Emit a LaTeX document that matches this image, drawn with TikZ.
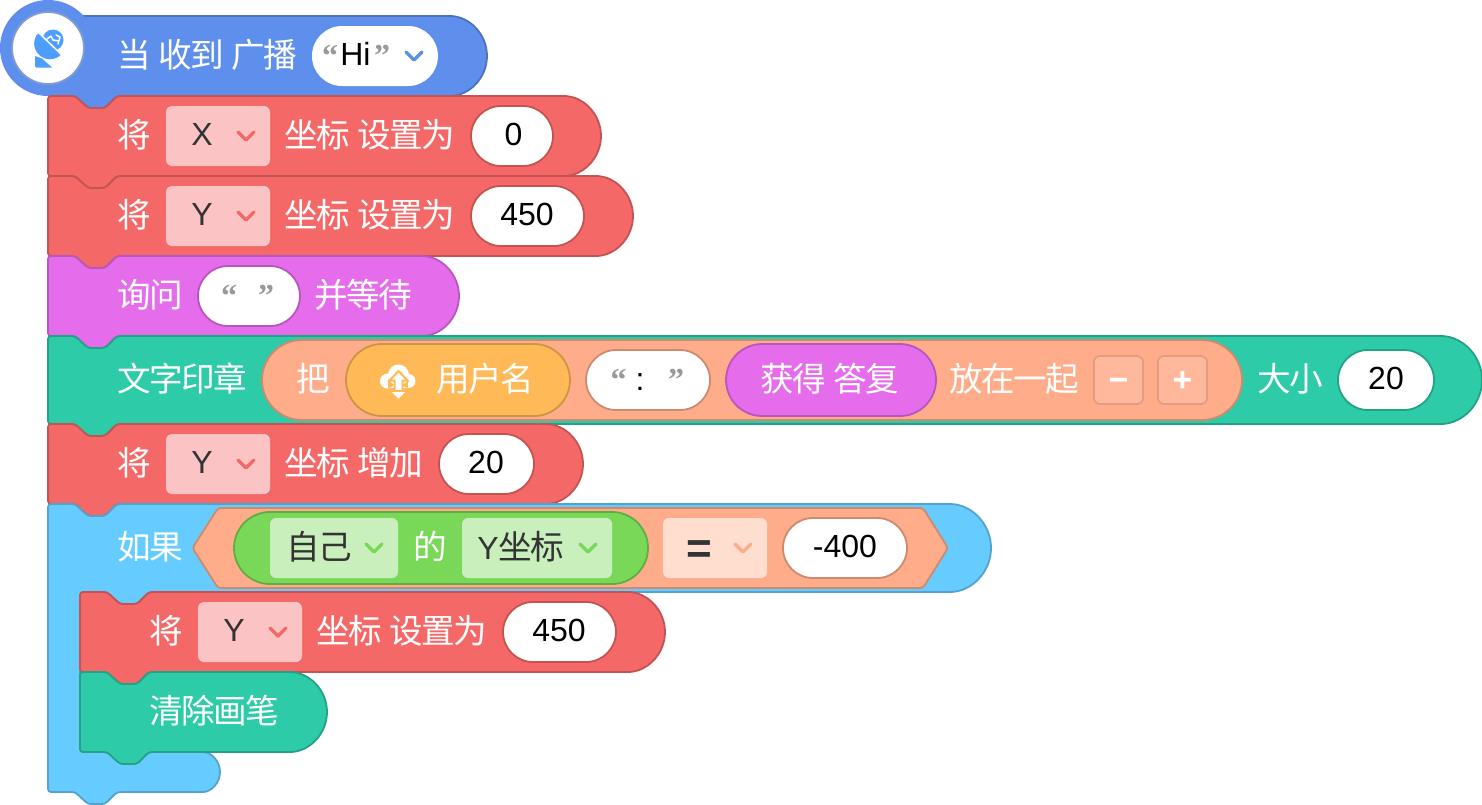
\documentclass[tikz,border=0pt]{standalone}
\usepackage{fontspec}
\setmainfont{Liberation Sans}
\newfontfamily\cjk[Scale=1.05,LetterSpace=-4.5]{Noto Sans CJK SC}
\newfontfamily\qfont{Liberation Serif}
\definecolor{hatF}{HTML}{5F8FED}\definecolor{hatS}{HTML}{4C72BE}
\definecolor{redF}{HTML}{F56868}\definecolor{redS}{HTML}{C45353}
\definecolor{purF}{HTML}{E56CEB}\definecolor{purS}{HTML}{B756BC}
\definecolor{teaF}{HTML}{2DCBA8}\definecolor{teaS}{HTML}{24A286}
\definecolor{bluF}{HTML}{66CCFF}\definecolor{bluS}{HTML}{52A3CC}
\definecolor{oraF}{HTML}{FFAC8A}\definecolor{oraS}{HTML}{CC8A6E}
\definecolor{yelF}{HTML}{FFBA57}\definecolor{yelS}{HTML}{CC9546}
\definecolor{greF}{HTML}{79D858}\definecolor{greS}{HTML}{60AD46}
\definecolor{ddR}{HTML}{FBC3C3}\definecolor{ddG}{HTML}{C9EFBC}\definecolor{ddO}{HTML}{FFDECF}
\definecolor{dark}{HTML}{333333}\definecolor{qgray}{HTML}{999999}\definecolor{dish}{HTML}{4D9EFF}
\definecolor{btnF}{HTML}{FFB89C}\definecolor{btnS}{HTML}{E09E80}
\tikzset{
 edge/.style={line width=1.8pt,line join=round},
 hatb/.style={edge,fill=hatF,draw=hatS},
 redb/.style={edge,fill=redF,draw=redS},
 purb/.style={edge,fill=purF,draw=purS},
 teab/.style={edge,fill=teaF,draw=teaS},
 blub/.style={edge,fill=bluF,draw=bluS},
 txt/.style={inner sep=0pt,outer sep=0pt,anchor=base,font=\fontsize{32}{36}\selectfont},
 tw/.style={txt,text=white,yshift=-1pt},
 td/.style={txt,text=dark},
 tk/.style={txt,text=black},
 tq/.style={inner sep=0pt,outer sep=0pt,anchor=base,text=qgray,font=\fontsize{32}{36}\qfont\bfseries},
 chevline/.style={line width=3.5pt,line cap=round,line join=round},
}
\newcommand{\gapw}{\kern7.5pt}
\newcommand{\tn}[5]{\node[#1] (#2) at (#3,#4) {#5};}
% block: style, left, top, bottom, right
\newcommand{\stackblock}[5]{%
 \pgfmathsetmacro{\rr}{(#4-#3)/2}%
 \draw[#1,rounded corners=3pt] (#2,#3) -- ({#2+27},#3) -- ({#2+40},{#3+12}) -- ({#2+57},{#3+12}) -- ({#2+69},#3)
   -- ({#5-\rr},#3) arc[start angle=-90,end angle=90,radius=\rr]
   -- ({#2+69},#4) -- ({#2+57},{#4+12}) -- ({#2+40},{#4+12}) -- ({#2+27},#4) -- (#2,#4) -- cycle;}
% pill: style, x1,y1,x2,y2
\newcommand{\pill}[5]{%
 \pgfmathsetmacro{\rr}{(#5-#3)/2}%
 \path[#1] ({#2+\rr},#3) -- ({#4-\rr},#3) arc[start angle=-90,end angle=90,radius=\rr]
   -- ({#2+\rr},#5) arc[start angle=90,end angle=270,radius=\rr] -- cycle;}
\newcommand{\ddbox}[6]{\fill[#1,rounded corners=6pt] (#2,#3) rectangle (#4,#5);\draw[chevline,#6] ({#4-32},{#3+26}) -- ({#4-24},{#3+34}) -- ({#4-16},{#3+26});}
\newcommand{\numpill}[5]{\pill{edge,fill=white,draw=#1}{#2}{#3}{#4}{#5}}
\begin{document}
\begin{tikzpicture}[x=1pt,y=-1pt]
\useasboundingbox (0,0) rectangle (1482,804);
% hat
\draw[hatb,rounded corners=3pt] (48,16) -- (447,16) arc[start angle=-90,end angle=90,radius=40]
   -- (117,96) -- (105,108) -- (88,108) -- (75,96) -- (48,96) -- cycle;
\fill[hatF] (48,48) circle[radius=48];
\draw[edge,fill=white,draw=hatS!70!white] (48,48) circle[radius=36];
% dish icon
\fill[dish] (53,40) circle[radius=10.5];
\draw[white,line width=1.5pt,line cap=round,line join=round] (47,39) -- (51,36) -- (53,40) -- (58,41) (56,35) -- (60,37) -- (58,44);
\draw[fill=dish,draw=white,line width=1.5pt] (38,32) arc[start angle=224,end angle=44,radius=16.6] -- cycle;
\fill[dish] (35,56) -- (35,66) -- (36.5,67.5) -- (52,67.5) -- (42,58.5) -- cycle;
\tn{tw}{t01}{207.5}{66}{\cjk 当\gapw 收到\gapw 广播}
\pill{fill=white}{312}{26}{438}{86}
\tn{tq}{q01}{330}{66}{“}
\tn{tk}{t02}{355.5}{65}{Hi}
\tn{tq}{q02}{382}{66}{”}
\draw[chevline,hatF] (406,52) -- (414,60) -- (422,52);
% set X
\stackblock{redb}{48}{96}{176}{601}
\tn{tw}{t03}{134}{146}{\cjk 将}
\ddbox{ddR}{166}{106}{270}{166}{redF}
\tn{td}{t04}{202}{145}{X}
\tn{tw}{t05}{370}{146}{\cjk 坐标\gapw 设置为}
\numpill{redS}{471}{106}{553}{166}
\tn{tk}{t06}{513.5}{145}{0}
% set Y
\stackblock{redb}{48}{176}{256}{633}
\tn{tw}{t07}{134}{226}{\cjk 将}
\ddbox{ddR}{166}{186}{270}{246}{redF}
\tn{td}{t08}{202}{225}{Y}
\tn{tw}{t09}{370}{226}{\cjk 坐标\gapw 设置为}
\numpill{redS}{471}{186}{584}{246}
\tn{tk}{t10}{527}{225}{450}
% ask
\stackblock{purb}{48}{256}{336}{459}
\tn{tw}{t11}{150}{306}{\cjk 询问}
\numpill{purS}{198}{266}{300}{326}
\tn{tq}{q03}{229}{306}{“}
\tn{tq}{q04}{266}{306}{”}
\tn{tw}{t12}{363}{306}{\cjk 并等待}
% stamp
\stackblock{teab}{48}{336}{424}{1482}
\tn{tw}{t13}{182}{390}{\cjk 文字印章}
\pill{edge,fill=oraF,draw=oraS}{262}{340}{1242}{420}
\tn{tw}{t14}{313}{390}{\cjk 把}
\pill{edge,fill=yelF,draw=yelS}{346}{344}{570}{416}
% cloud icon
\fill[white] (398.5,375) circle[radius=10.5] (387.5,381) circle[radius=7.5] (408.5,381) circle[radius=7] (388,379) rectangle (408,388);
\draw[fill=white,draw=yelF,line width=2pt,line join=miter] (398.5,371) -- (389.5,380.5) -- (394.5,380.5) -- (394.5,391) -- (402.5,391) -- (402.5,380.5) -- (407.5,380.5) -- cycle;
\fill[white] (392,392) -- (405,392) -- (398.5,398.5) -- cycle;
\tn{tw}{t15}{485}{390}{\cjk 用户名}
\numpill{oraS}{586}{350}{710}{410}
\tn{tq}{q05}{618.5}{390}{“}
\tn{tk}{t16}{640}{390}{:}
\tn{tq}{q06}{676}{390}{”}
\pill{edge,fill=purF,draw=purS}{726}{344}{936}{416}
\tn{tw}{t17}{830}{390}{\cjk 获得\gapw 答复}
\tn{tw}{t18}{1014}{390}{\cjk 放在一起}
\draw[edge,fill=btnF,draw=btnS,rounded corners=6pt] (1094,356) rectangle (1143,404);
\draw[edge,fill=btnF,draw=btnS,rounded corners=6pt] (1158,356) rectangle (1207,404);
\tn{tw,font=\fontsize{34}{36}\selectfont\bfseries}{t19}{1118.5}{390}{−}
\tn{tw,font=\fontsize{34}{36}\selectfont\bfseries}{t20}{1182.5}{390}{+}
\tn{tw}{t21}{1290}{390}{\cjk 大小}
\numpill{teaS}{1338}{350}{1434}{410}
\tn{tk}{t22}{1386}{389}{20}
% change Y
\stackblock{redb}{48}{424}{504}{583}
\tn{tw}{t23}{134}{474}{\cjk 将}
\ddbox{ddR}{166}{434}{270}{494}{redF}
\tn{td}{t24}{202}{473}{Y}
\tn{tw}{t25}{354}{474}{\cjk 坐标\gapw 增加}
\numpill{redS}{439}{434}{534}{494}
\tn{tk}{t26}{486}{473}{20}
% if block
\draw[blub,rounded corners=3pt] (48,504) -- (75,504) -- (88,516) -- (105,516) -- (117,504) -- (947,504)
  arc[start angle=-90,end angle=90,radius=44] -- (149,592) -- (137,604) -- (120,604) -- (107,592) -- (80,592) -- (80,752)
  -- (200,752) arc[start angle=-90,end angle=90,radius=20] -- (117,792) -- (105,804) -- (88,804) -- (75,792) -- (48,792) -- cycle;
\tn{tw}{t27}{150}{558}{\cjk 如果}
\draw[edge,fill=oraF,draw=oraS,rounded corners=3pt] (192.5,548) -- (218,508) -- (923,508) -- (948,548) -- (923,588) -- (218,588) -- cycle;
\pill{edge,fill=greF,draw=greS}{234}{512}{648}{584}
\ddbox{ddG}{270}{518}{398}{578}{greF}
\tn{td}{t28}{319}{559}{\cjk 自己}
\tn{tw}{t29}{430}{558}{\cjk 的}
\ddbox{ddG}{462}{518}{612}{578}{greF}
\tn{td}{t30}{521}{559}{Y{\cjk 坐标}}
\ddbox{ddO}{663}{518}{767}{578}{oraF}
\tn{td,font=\fontsize{44}{46}\selectfont\bfseries}{t31}{699}{563}{=}
\numpill{oraS}{783}{518}{907}{578}
\tn{tk}{t32}{845}{557}{-400}
% inner set Y
\stackblock{redb}{80}{592}{672}{665}
\tn{tw}{t33}{166}{642}{\cjk 将}
\ddbox{ddR}{198}{602}{302}{662}{redF}
\tn{td}{t34}{234}{641}{Y}
\tn{tw}{t35}{402}{642}{\cjk 坐标\gapw 设置为}
\numpill{redS}{503}{602}{616}{662}
\tn{tk}{t36}{559}{641}{450}
% clear pen
\stackblock{teab}{80}{672}{752}{327}
\tn{tw}{t37}{214}{722}{\cjk 清除画笔}
\end{tikzpicture}
\end{document}
